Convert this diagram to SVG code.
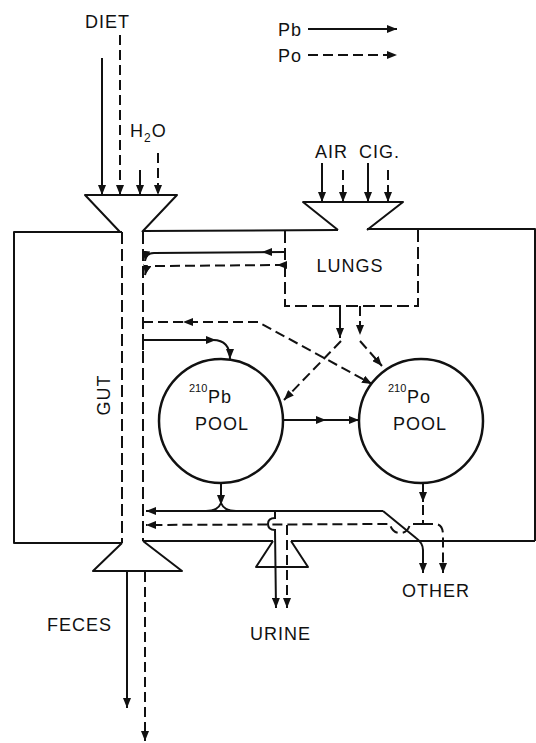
<svg xmlns="http://www.w3.org/2000/svg" xmlns:xlink="http://www.w3.org/1999/xlink" width="536" height="743" viewBox="0 0 536 743">
<style>
  text { font-family: "Liberation Sans", Arial, sans-serif; font-size: 18px; fill: #111; letter-spacing: 1px; }
  .sup { font-size: 11px; letter-spacing: 0; }
  .ln { fill: none; stroke: #111; stroke-width: 2; stroke-linejoin: round; stroke-linecap: butt; }
  .pb { fill: none; stroke: #111; stroke-width: 2; }
  .po { fill: none; stroke: #111; stroke-width: 2; stroke-dasharray: 10 5; }
  .box { fill: none; stroke: #111; stroke-width: 2; stroke-dasharray: 12 5; }
  .ar { marker-end: url(#arr); }
  .pool { fill: none; stroke: #111; stroke-width: 2.5; }
</style>
<defs>
  <marker id="arr" viewBox="0 0 10 8" refX="10" refY="4" markerWidth="10" markerHeight="8" orient="auto" markerUnits="userSpaceOnUse">
    <path d="M0,0 L10,4 L0,8 Z" fill="#111" stroke="none"/>
  </marker>
  <path id="mh" d="M0,0 L-10,-4 L-10,4 Z" fill="#111"/>
</defs>

<g id="body">
  <path class="ln" d="M122 232 L14 232 L14 543 L122 543"/>
  <path class="ln" d="M143 231 L338 230"/>
  <path class="ln" d="M367 229 L535 229 L535 541"/>
  <path class="ln" d="M143 541 L273 541"/>
  <path class="ln" d="M291 541 L535 541"/>
</g>

<g id="gut">
  <path class="ln" d="M120 232 L85 195 L177 195 L142 232"/>
  <path class="box" d="M122 232 L122 543"/>
  <path class="box" d="M143 232 L143 541"/>
  <path class="ln" d="M122 543 L93 571 L182 571 L143 541"/>
  <text transform="translate(110,395) rotate(-90)" text-anchor="middle" letter-spacing="0">GUT</text>
</g>

<g id="lungs">
  <path class="ln" d="M338 230 L303 202 L403 202 L367 230"/>
  <path class="box" d="M285 231 L285 306 L418 306 L418 230"/>
  <text x="350" y="272" text-anchor="middle">LUNGS</text>
</g>

<g id="pb-pool">
  <circle class="pool" cx="221" cy="421" r="62"/>
  <text x="189" y="392" class="sup">210</text>
  <text x="208" y="403" font-size="19" letter-spacing="2">Pb</text>
  <text x="195" y="430">POOL</text>
</g>

<g id="po-pool">
  <circle class="pool" cx="421" cy="421" r="62"/>
  <text x="388" y="392" class="sup">210</text>
  <text x="407" y="403" font-size="19" letter-spacing="2">Po</text>
  <text x="393" y="430">POOL</text>
</g>

<g id="urine-exit">
  <path class="ln" d="M273 541 L256 567 L308 567 L291 541"/>
  <text x="250" y="640">URINE</text>
</g>

<g id="labels">
  <text x="85" y="28">DIET</text>
  <text x="130" y="137" letter-spacing="0">H<tspan font-size="12" dy="5">2</tspan><tspan dy="-5">O</tspan></text>
  <text x="315" y="158" letter-spacing="0.5">AIR</text>
  <text x="359" y="158" letter-spacing="0.5">CIG.</text>
  <text x="47" y="631">FECES</text>
  <text x="402" y="597">OTHER</text>
  <text x="278" y="36" letter-spacing="0">Pb</text>
  <text x="278" y="62" letter-spacing="0">Po</text>
</g>

<g id="connectors">
  <!-- legend -->
  <path class="pb ar" d="M308 29 L397 29"/>
  <path class="po ar" d="M308 55 L397 55"/>
  <!-- diet / water -->
  <path class="pb ar" d="M102 58 L102 195"/>
  <path class="po ar" d="M120 35 L120 195"/>
  <path class="pb ar" d="M140 170 L140 195"/>
  <path class="po ar" d="M158 153 L158 195"/>
  <!-- air / cig -->
  <path class="pb ar" d="M322 163 L322 202"/>
  <path class="po ar" d="M343 170 L343 202"/>
  <path class="pb ar" d="M368 163 L368 202"/>
  <path class="po ar" d="M388 170 L388 202"/>
  <!-- lungs to gut -->
  <path class="pb ar" d="M285 252 L154 253 Q146 253 145 261"/>
  <use xlink:href="#mh" transform="translate(262,252) rotate(180)"/>
  <path class="po ar" d="M285 265 L154 266 Q147 266 145 275"/>
  <use xlink:href="#mh" transform="translate(277,265) rotate(180)"/>
  <!-- gut to Po pool -->
  <path class="po ar" d="M143 322 L258 322 L372 384"/>
  <use xlink:href="#mh" transform="translate(183,322) rotate(180)"/>
  <!-- gut to Pb pool -->
  <path class="pb ar" d="M143 350 L143 340 L213 340 Q230 340 230 359"/>
  <use xlink:href="#mh" transform="translate(216,340)"/>
  <!-- lungs to pools -->
  <path class="pb ar" d="M340 306 L340 338"/>
  <path class="po ar" d="M341 341 L284 400"/>
  <path class="po ar" d="M360 306 L360 335"/>
  <path class="po ar" d="M360 341 L382 366"/>
  <!-- Pb to Po -->
  <path class="pb ar" d="M283 420 L359 420"/>
  <use xlink:href="#mh" transform="translate(326,420)"/>
  <!-- Pb pool outflow -->
  <path class="pb ar" d="M221 483 L221 505"/>
  <path class="pb" d="M206 511 Q218 511 221 503 Q224 511 236 511"/>
  <path class="pb ar" d="M383 511 L146 511"/>
  <path class="pb ar" d="M383 511 L416 538 Q423 543 423 550 L423 573"/>
  <!-- urine Pb with hop -->
  <path class="pb ar" d="M275 511 L275 518 Q268 518 268 524 Q268 530 275 530 L276 608"/>
  <!-- Po pool outflow -->
  <path class="pb ar" d="M423 483 L423 502"/>
  <path class="po" d="M423 505 L423 524"/>
  <path class="po ar" d="M423 524 L410 524 Q408 533 400 533 Q392 533 390 524 L146 525"/>
  <path class="po ar" d="M423 524 L435 524 Q443 524 443 535 L443 573"/>
  <!-- urine Po -->
  <path class="po ar" d="M287 525 L287 608"/>
  <!-- feces -->
  <path class="pb ar" d="M127 572 L127 708"/>
  <path class="po ar" d="M145 572 L145 741"/>
</g>
</svg>
